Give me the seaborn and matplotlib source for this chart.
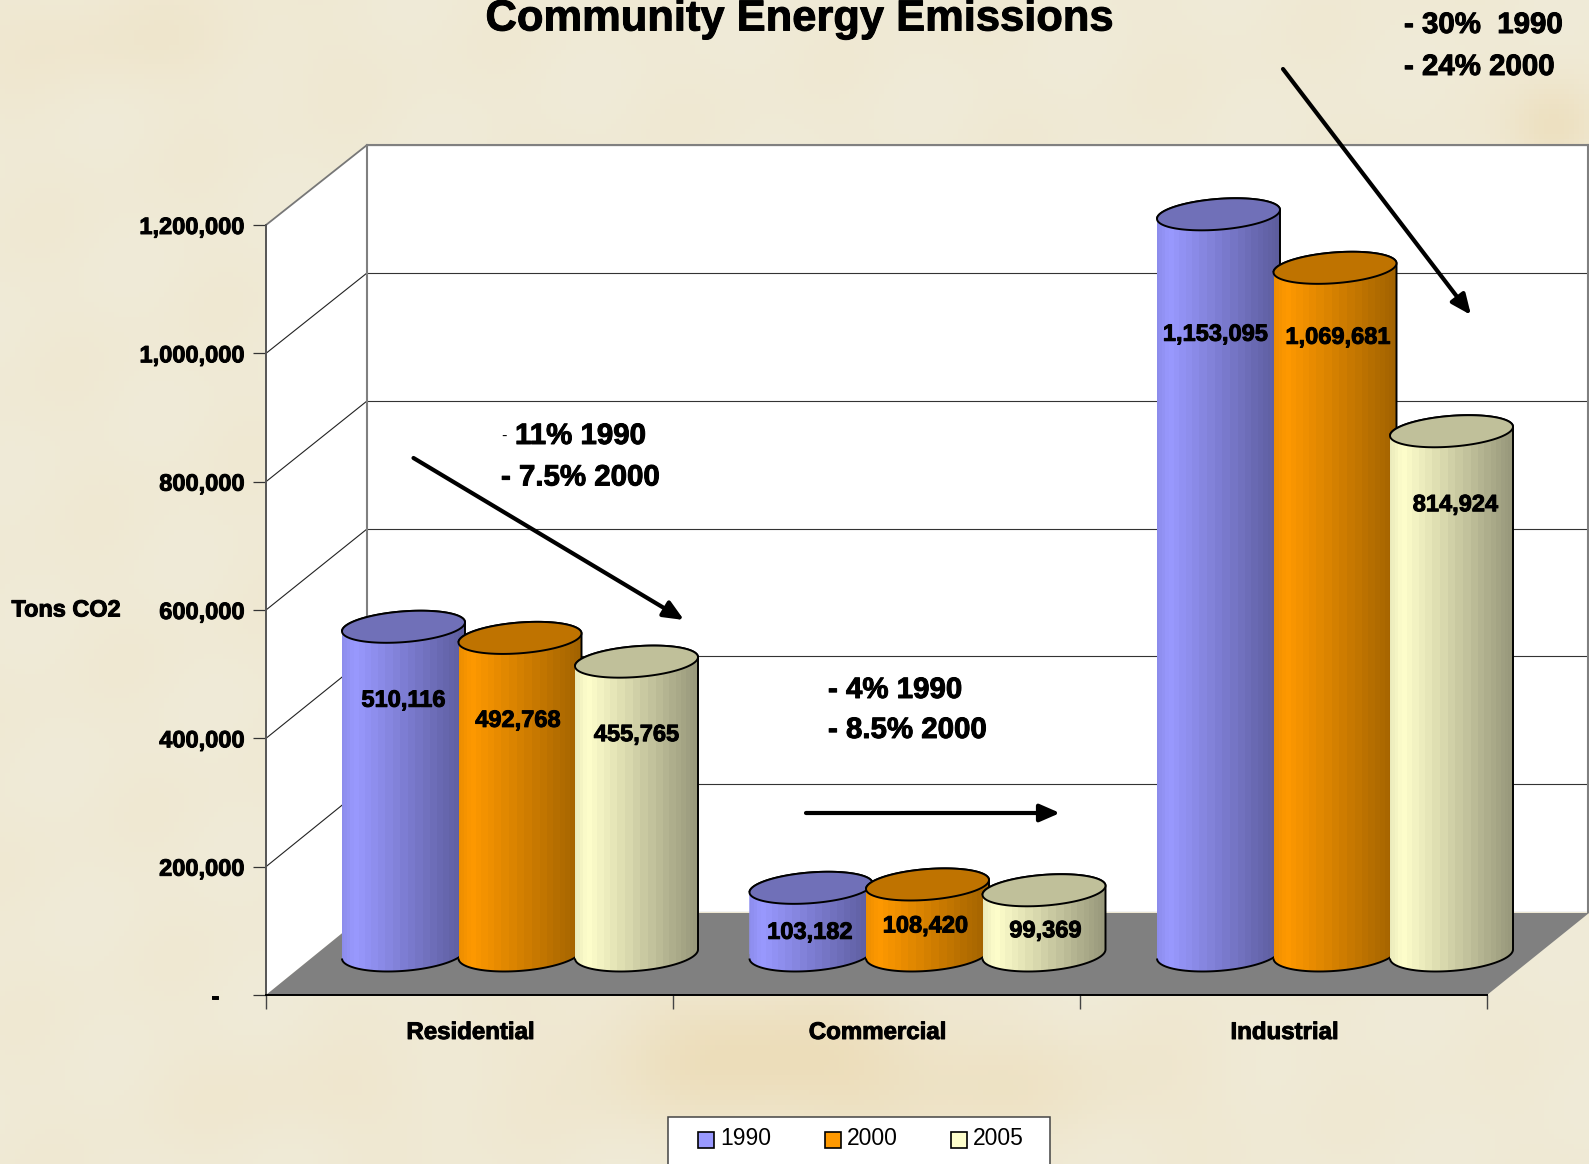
import numpy as np
import pandas as pd
import seaborn as sns
import matplotlib.pyplot as plt
import matplotlib.patheffects as pe
from matplotlib.patches import PathPatch, Polygon, Rectangle
from matplotlib.path import Path
from matplotlib.transforms import ScaledTranslation

# datos del grafico
sectors = ["Residential", "Commercial", "Industrial"]
years = ["1990", "2000", "2005"]
tons_1990 = [510116, 103182, 1153095]
tons_2000 = [492768, 108420, 1069681]
tons_2005 = [455765, 99369, 814924]
y_ticks = [0, 200000, 400000, 600000, 800000, 1000000, 1200000]
y_tick_labels = ["-", "200,000", "400,000", "600,000", "800,000", "1,000,000", "1,200,000"]
colors = ["#9999FF", "#FF9900", "#FFFFCC"]
end_colors = ["#5C5C9C", "#A06200", "#97977A"]
top_colors = ["#7070B8", "#BF7300", "#C0C09A"]

# posicion de las etiquetas respecto a la tapa de cada cilindro (px)
label_drop = [[73.5, 44.5, 120], [82.5, 41.5, 69.5], [73, 40.5, 73.5]]
label_dx = [[0, -1, -3], [-2, -2, 3], [0, 1.5, 4]]

W, H = 1589, 1164
HEAVY = [pe.withStroke(linewidth=0.7, foreground="black")]
BOLD = dict(fontfamily="Liberation Sans", fontweight="bold", color="black", path_effects=HEAVY)

sns.set_theme(style="white")
plt.rcParams["font.family"] = ["Liberation Sans", "DejaVu Sans"]
fig = plt.figure(figsize=(W / 100, H / 100), dpi=100)


def px_axes(x0, y0, x1, y1, zorder):
    ax = fig.add_axes([x0 / W, 1 - y1 / H, (x1 - x0) / W, (y1 - y0) / H], zorder=zorder)
    ax.patch.set_alpha(0)
    return ax


# fondo tipo pergamino, manchas suaves
ax_bg = px_axes(0, 0, W, H, 0)
ax_bg.set_xlim(0, W)
ax_bg.set_ylim(H, 0)
ax_bg.set_axis_off()
gx, gy = np.meshgrid(np.linspace(0, W, 320), np.linspace(0, H, 235))
stain = 0.06 * (np.sin(gx / 37 + gy / 61) * np.sin(gy / 43 - gx / 90) + 1)
for sx, sy, rx, ry, amp in [(760, 1060, 170, 70, 0.55), (130, 40, 160, 50, 0.15), (1560, 125, 45, 45, 0.45),
                            (700, 800, 140, 90, 0.15), (1000, 1090, 200, 60, 0.25), (320, 1100, 150, 50, 0.12)]:
    stain += amp * np.exp(-((gx - sx) / rx) ** 2 - ((gy - sy) / ry) ** 2)
paper = np.array([240, 235, 216]) / 255
warm = np.array([235, 214, 170]) / 255
texture = paper + np.clip(stain, 0, 1)[..., None] * (warm - paper)
ax_bg.imshow(texture, extent=(0, W, H, 0), aspect="auto", zorder=0)

# pared lateral, piso y caja de la leyenda
ax_bg.add_patch(Polygon([(266, 225), (367, 145), (367, 913), (266, 995)], fc="white", ec="none", zorder=1))
ax_bg.add_patch(Polygon([(266, 995), (367, 913), (1589, 913), (1487, 995)], fc="#808080", ec="none", zorder=1))
ax_bg.add_patch(Rectangle((668, 1117), 382, 60, fc="white", ec="#444444", lw=1.1, zorder=1))
for tick in y_ticks[1:-1]:
    front_y = 995 - tick / 1200000 * 770
    back_y = 913 - tick / 1200000 * 768
    ax_bg.plot([266, 367], [front_y, back_y], color="#222222", lw=0.8, zorder=2)
ax_bg.plot([266, 367], [225, 145], color="#777777", lw=1.3, zorder=2)

# pared del fondo con la grilla
ax_back = px_axes(367, 145, 1588, 912, 1)
ax_back.patch.set_alpha(1)
ax_back.patch.set_facecolor("white")
ax_back.set_ylim(0, 1200000)
ax_back.set_yticks(y_ticks)
ax_back.set_xticks([])
ax_back.tick_params(left=False, labelleft=False)
ax_back.grid(axis="y", color="#333333", lw=0.8)
for side in ["top", "left", "right"]:
    ax_back.spines[side].set_color("#808080")
    ax_back.spines[side].set_linewidth(1.5)
ax_back.spines["bottom"].set_visible(False)

# ejes del plano frontal
ax_front = px_axes(266, 225, 1487, 995, 2)
ax_front.set_xlim(0, 3)
ax_front.set_ylim(0, 1200000)
ax_front.set_yticks(y_ticks)
ax_front.set_yticklabels(y_tick_labels, fontsize=17, **BOLD)
ax_front.set_xticks([0.5, 1.5, 2.5])
ax_front.set_xticklabels(sectors, fontsize=17.3, **BOLD)
ax_front.set_xticks([0, 1, 2, 3], minor=True)
ax_front.tick_params(axis="y", left=True, length=9.4, width=0.9, color="#333333", pad=6)
ax_front.tick_params(axis="x", which="major", bottom=False, pad=12.7)
ax_front.tick_params(axis="x", which="minor", bottom=True, length=10, width=1, color="#444444")
sns.despine(ax=ax_front)
ax_front.spines["left"].set_color("#555555")
ax_front.spines["left"].set_linewidth(1.4)
ax_front.spines["left"].set_bounds(0, 1200000)
ax_front.spines["bottom"].set_color("black")
ax_front.spines["bottom"].set_linewidth(1.4)
zero_label = ax_front.get_yticklabels()[0]
zero_label.set_transform(zero_label.get_transform() + ScaledTranslation(-26 / 100, 0, fig.dpi_scale_trans))
for lbl in ax_front.get_xticklabels():
    lbl.set_transform(lbl.get_transform() + ScaledTranslation(1 / 100, 0, fig.dpi_scale_trans))

# cilindros: barplot de seaborn y encima el sombreado
df = pd.DataFrame({
    "sector": sectors * 3,
    "year": np.repeat(years, 3),
    "tons": tons_1990 + tons_2000 + tons_2005,
})
ax_bars = px_axes(0, 0, W, H, 3)
sns.barplot(data=df, x="sector", y="tons", hue="year", order=sectors, hue_order=years, palette=colors,
            saturation=1, width=0.8577, gap=0, ax=ax_bars)

px_x = 1 / 407.5          # unidades de categoria por pixel
px_y = 200000 / 128.3     # toneladas por pixel
half_w = 61.5 * px_x
half_h = 15.4 * px_y
tilt = 4.5 * px_y

facets = 1 - np.cos(np.linspace(0, np.pi, 26))
columns = np.linspace(0, 2, 400)
facet_pos = np.clip(np.searchsorted(facets, columns, side="right") - 1, 0, 24) + 0.5
shade_u = (1 - np.cos(facet_pos / 25 * np.pi)) / 2
shade = np.where(shade_u < 0.1, 0.8 + 2 * shade_u, 1 - (shade_u - 0.1) / 0.9)
shade = np.clip(shade, 0, 1)

t_low = np.linspace(np.pi, 2 * np.pi, 60)
t_up = np.linspace(0, np.pi, 60)
t_all = np.linspace(0, 2 * np.pi, 120)

for i, container in enumerate(ax_bars.containers):
    z = 4 + i * 3
    light = np.array(plt.matplotlib.colors.to_rgb(colors[i]))
    dark = np.array(plt.matplotlib.colors.to_rgb(end_colors[i]))
    gradient = (dark + shade[..., None] * (light - dark))[None, ...]
    for j, bar in enumerate(container):
        cx = bar.get_x() + bar.get_width() / 2
        value = bar.get_height()
        bar.set_x(cx - half_w)
        bar.set_width(2 * half_w)
        bar.set_edgecolor("none")
        bar.set_zorder(z)

        xs = cx + half_w * np.cos(np.r_[t_low, t_up])
        ys = np.r_[(half_h + 1.5 * px_y) * np.sin(t_low) + tilt * np.cos(t_low),
                   value + half_h * np.sin(t_up) + tilt * np.cos(t_up)]
        body = PathPatch(Path(np.c_[xs, ys], closed=False), fc="none", ec="black", lw=1.4, zorder=z + 1)
        ax_bars.add_patch(body)
        bar.set_clip_path(body)
        img = ax_bars.imshow(gradient, extent=(cx - half_w, cx + half_w, -half_h - tilt - 2 * px_y, value + half_h + tilt),
                             aspect="auto", interpolation="nearest", zorder=z)
        img.set_clip_path(body)

        cap_x = cx + half_w * np.cos(t_all)
        cap_y = value + half_h * np.sin(t_all) + tilt * np.cos(t_all)
        ax_bars.add_patch(Polygon(np.c_[cap_x, cap_y], fc=top_colors[i], ec="black", lw=1.4, zorder=z + 2))

        ax_bars.annotate(f"{value:,.0f}", xy=(cx, value), xytext=(label_dx[i][j] * 0.72, -label_drop[i][j] * 0.72),
                         textcoords="offset points", ha="center", va="center", fontsize=17, zorder=30, **BOLD)

ax_bars.set_xlim(-520 * px_x, (W - 520) * px_x)
ax_bars.set_ylim(-(H - 954) * px_y, 954 * px_y)
ax_bars.set_axis_off()

sns.move_legend(ax_bars, loc="upper left", bbox_to_anchor=(698 / W, 1 - 1127 / H), ncol=3, title=None, frameon=False,
                borderpad=0, borderaxespad=0, handlelength=0.7, handleheight=0.7, handletextpad=0.27,
                columnspacing=2.33, fontsize=16.5, labelcolor="black")
for handle in ax_bars.get_legend().legend_handles:
    handle.set_edgecolor("black")
    handle.set_linewidth(1.2)
    handle.set_y(handle.get_y() - 2)

# textos y flechas
ax_top = px_axes(0, 0, W, H, 5)
ax_top.set_xlim(0, W)
ax_top.set_ylim(H, 0)
ax_top.set_axis_off()
ax_top.text(800.5, 30.5, "Community Energy Emissions", ha="center", va="baseline", fontsize=31.3, **BOLD)
ax_top.text(11.5, 610, "Tons CO2", ha="left", va="center", fontsize=16.9, **BOLD)

notes = [(1404, 33, "- 30%  1990"), (1404, 75, "- 24% 2000"),
         (515, 444, "11% 1990"), (501, 485.5, "- 7.5% 2000"),
         (828, 698, "- 4% 1990"), (828, 738, "- 8.5% 2000")]
for nx, ny, note in notes:
    ax_top.text(nx, ny, note, ha="left", va="baseline", fontsize=21.2, **BOLD)
ax_top.text(501, 441, "-", ha="left", va="baseline", fontsize=12, color="black")

arrows = [((413.5, 458), (684, 620)), ((806, 813), (1060, 813)), ((1283, 69), (1471, 315))]
for start, end in arrows:
    ax_top.annotate("", xy=end, xytext=start,
                    arrowprops=dict(arrowstyle="-|>,head_length=0.55,head_width=0.24", color="black", lw=3,
                                    mutation_scale=22, shrinkA=0, shrinkB=0))

fig.savefig("out.png", dpi=100)
